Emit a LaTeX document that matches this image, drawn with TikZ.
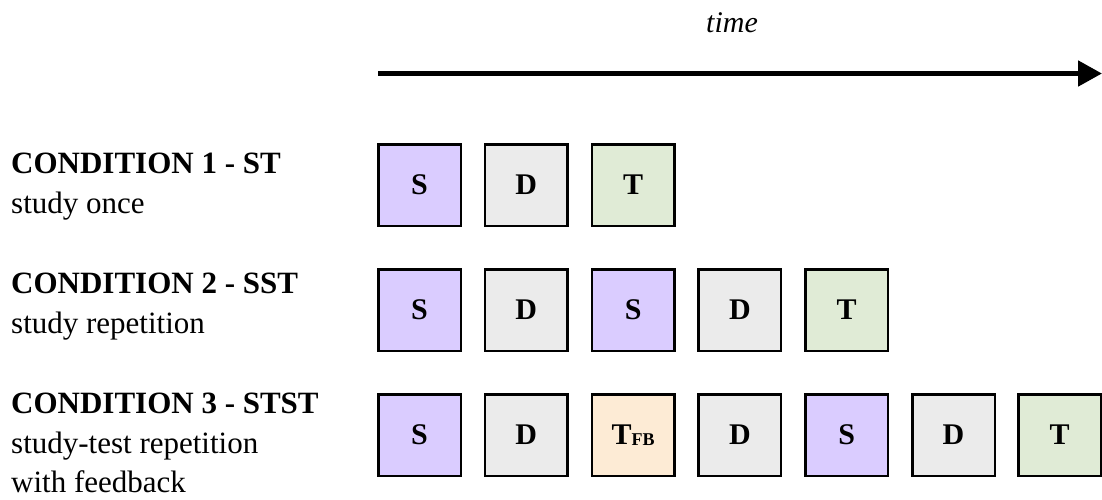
\documentclass[tikz,border=0pt]{standalone}
\usepackage{fontspec}
\setmainfont{Liberation Serif}
\usetikzlibrary{arrows.meta}
\definecolor{cS}{HTML}{DACCFF}
\definecolor{cD}{HTML}{EBEBEB}
\definecolor{cT}{HTML}{E0EBD6}
\definecolor{cF}{HTML}{FDEBD5}
\begin{document}
\begin{tikzpicture}[x=1pt,y=-1pt,
  box/.style={draw=black, line width=2.5pt, minimum width=82.5pt, minimum height=81.5pt, inner sep=0pt, font=\fontsize{30}{30}\selectfont\bfseries},
  sbox/.style={box, fill=cS},
  dbox/.style={box, fill=cD},
  tbox/.style={box, fill=cT},
  fbox/.style={box, fill=cF},
  cond/.style={anchor=base west, inner sep=0pt, font=\fontsize{31}{31}\selectfont\bfseries},
  desc/.style={anchor=base west, inner sep=0pt, font=\fontsize{31}{31}\selectfont},
  timelbl/.style={anchor=base, inner sep=0pt, font=\fontsize{30}{30}\selectfont\itshape}]
\useasboundingbox (0,0) rectangle (1102,499);

% time axis
\node[timelbl] (tl) at (732,32) {time};
\coordinate (as) at (378,73.5);
\coordinate (ae) at (1102,73.5);
\draw[line width=5pt, -{Triangle[length=24pt,width=25pt]}] (as) -- (ae);

% row labels
\node[cond] (c1) at (11,173) {CONDITION 1 - ST};
\node[desc] (d1) at (11,213) {study once};
\node[cond] (c2) at (11,293) {CONDITION 2 - SST};
\node[desc] (d2) at (11,333) {study repetition};
\node[cond] (c3) at (11,413) {CONDITION 3 - STST};
\node[desc] (d3a) at (11,453) {study-test repetition};
\node[desc] (d3b) at (11,492) {with feedback};

% row 1
\node[sbox] (r1a) at (419.5,185) {S};
\node[dbox] (r1b) at (526.3,185) {D};
\node[tbox] (r1c) at (633.1,185) {T};

% row 2
\node[sbox] (r2a) at (419.5,310) {S};
\node[dbox] (r2b) at (526.3,310) {D};
\node[sbox] (r2c) at (633.1,310) {S};
\node[dbox] (r2d) at (739.9,310) {D};
\node[tbox] (r2e) at (846.7,310) {T};

% row 3
\node[sbox] (r3a) at (419.5,435) {S};
\node[dbox] (r3b) at (526.3,435) {D};
\node[fbox] (r3c) at (633.1,435) {T\raisebox{-1.5pt}{\fontsize{18}{18}\selectfont FB}};
\node[dbox] (r3d) at (739.9,435) {D};
\node[sbox] (r3e) at (846.7,435) {S};
\node[dbox] (r3f) at (953.5,435) {D};
\node[tbox] (r3g) at (1059.5,435) {T};
\end{tikzpicture}
\end{document}
